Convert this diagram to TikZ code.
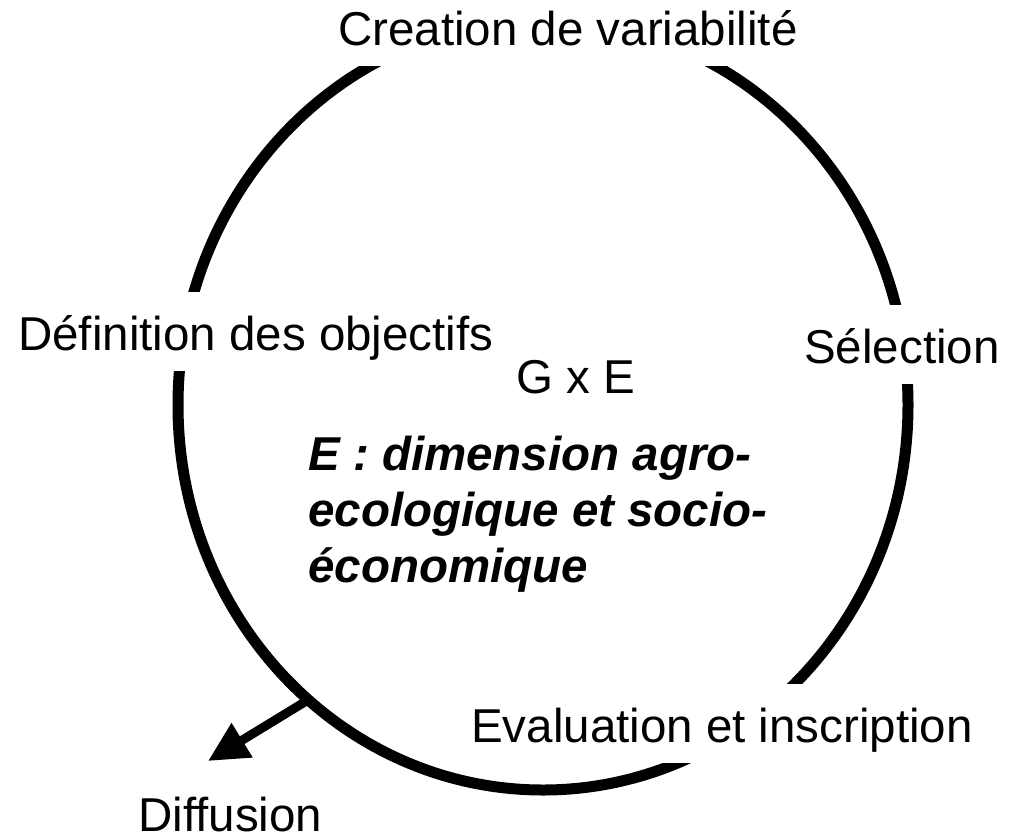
\documentclass[tikz,border=0pt]{standalone}
\usepackage{fontspec}
\setmainfont{Liberation Sans}
\usetikzlibrary{arrows.meta}
\begin{document}
\begin{tikzpicture}[x=1pt,y=-1pt,
  txt/.style={font=\fontsize{47.5}{56}\selectfont, anchor=base west, inner sep=0pt},
  lbl/.style={txt, fill=white, text height=58pt, text depth=21pt},
  ring/.style={line width=11pt},
  flow/.style={line width=9pt, -{Triangle[length=40pt,width=38pt]}}]
\useasboundingbox (0,0) rectangle (1019,836);
\fill[white] (0,0) rectangle (1019,836);
\draw[ring] (543,405) ellipse [x radius=365, y radius=385];
\node[lbl] (crea) at (338,45) {Creation de variabilité};
\node[lbl] (defi) at (18,350) {Définition des objectifs};
\node[lbl] (sele) at (804,363) {Sélection};
\node[lbl] (eval) at (471,742) {Evaluation et inscription};
\node[txt] (gxe) at (516,393) {G x E};
\node[txt, font=\fontsize{47.5}{56}\selectfont\bfseries\itshape, align=left, anchor=north west] (edim) at (308,436) {E : dimension agro-\\ecologique et socio-\\économique};
\node[txt] (diff) at (138,831) {Diffusion};
\coordinate (src) at (308,700);
\coordinate (tip) at (208,761);
\draw[flow] (src) -- (tip);
\end{tikzpicture}
\end{document}
